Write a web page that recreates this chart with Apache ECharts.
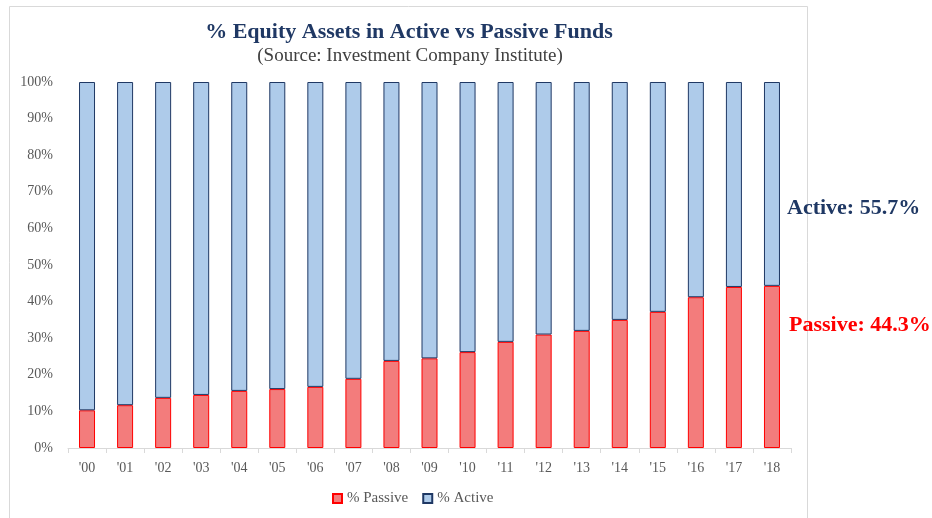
<!DOCTYPE html>
<html><head><meta charset="utf-8">
<script src="https://cdn.jsdelivr.net/npm/echarts@6/dist/echarts.min.js"></script>
<style>html,body{margin:0;padding:0;background:#fff}#c{width:932px;height:518px}</style>
</head><body><div id="c"></div>
<script>
var categories = ["'00","'01","'02","'03","'04","'05","'06","'07","'08","'09","'10","'11","'12","'13","'14","'15","'16","'17","'18"];
var passive = [10.3,11.7,13.7,14.5,15.6,16.1,16.7,18.9,23.8,24.5,26.2,29.0,31.0,32.0,35.0,37.2,41.2,44.0,44.3];
var active = [89.7,88.3,86.3,85.5,84.4,83.9,83.3,81.1,76.2,75.5,73.8,71.0,69.0,68.0,65.0,62.8,58.8,56.0,55.7];
var yTicks = [0,10,20,30,40,50,60,70,80,90,100];
var titleText = '% Equity Assets in Active vs Passive Funds';
var subtitleText = '(Source: Investment Company Institute)';
var activeNote = 'Active: 55.7%';
var passiveNote = 'Passive: 44.3%';

var serif = "'Liberation Serif', 'DejaVu Serif', serif";
var chart = echarts.init(document.getElementById('c'), null, {renderer:'canvas'});
chart.setOption({
  backgroundColor:'#fff',
  animation:false,
  graphic:[
    {type:'rect', shape:{x:9.5,y:6.5,width:798,height:530}, style:{fill:'none', stroke:'#D9D9D9', lineWidth:1}, silent:true, z:-1}
  ],
  title:[
    {text:titleText, left:404, top:16, textAlign:'center', textStyle:{fontFamily:serif, fontWeight:'bold', fontSize:22, color:'#1F3864'}},
    {text:subtitleText, left:405, top:42, textAlign:'center', textStyle:{fontFamily:serif, fontWeight:'normal', fontSize:19, color:'#404040'}},
    {text:activeNote, left:782, top:192, textStyle:{fontFamily:serif, fontWeight:'bold', fontSize:22, color:'#1F3864'}},
    {text:passiveNote, left:784, top:309, textStyle:{fontFamily:serif, fontWeight:'bold', fontSize:22, color:'#FF0000'}}
  ],
  legend:{
    data:['% Passive','% Active'], bottom:7, left:327, itemWidth:9, itemHeight:9, itemGap:14,
    textStyle:{fontFamily:serif, fontSize:15, color:'#595959'}, icon:'rect'
  },
  grid:{left:68, right:141, top:82, bottom:70},
  xAxis:{
    type:'category', data:categories,
    axisLine:{lineStyle:{color:'#D9D9D9', width:1}},
    axisTick:{show:true, length:5, lineStyle:{color:'#D9D9D9'}},
    axisLabel:{fontFamily:serif, fontSize:14, color:'#595959', margin:13}
  },
  yAxis:{
    type:'value', min:0, max:100, interval:10,
    axisLine:{show:false}, axisTick:{show:false}, splitLine:{show:false},
    axisLabel:{fontFamily:serif, fontSize:14, color:'#595959', margin:15, formatter:function(v){return yTicks.indexOf(v)>=0 ? v+'%' : '';}}
  },
  series:[
    {name:'% Passive', type:'bar', stack:'s', data:passive, barWidth:16,
     itemStyle:{color:'#F37C7C', borderColor:'#FF0000', borderWidth:1}},
    {name:'% Active', type:'bar', stack:'s', data:active, barWidth:16,
     itemStyle:{color:'#AECBEA', borderColor:'#1F3864', borderWidth:1}}
  ]
});
</script></body></html>
